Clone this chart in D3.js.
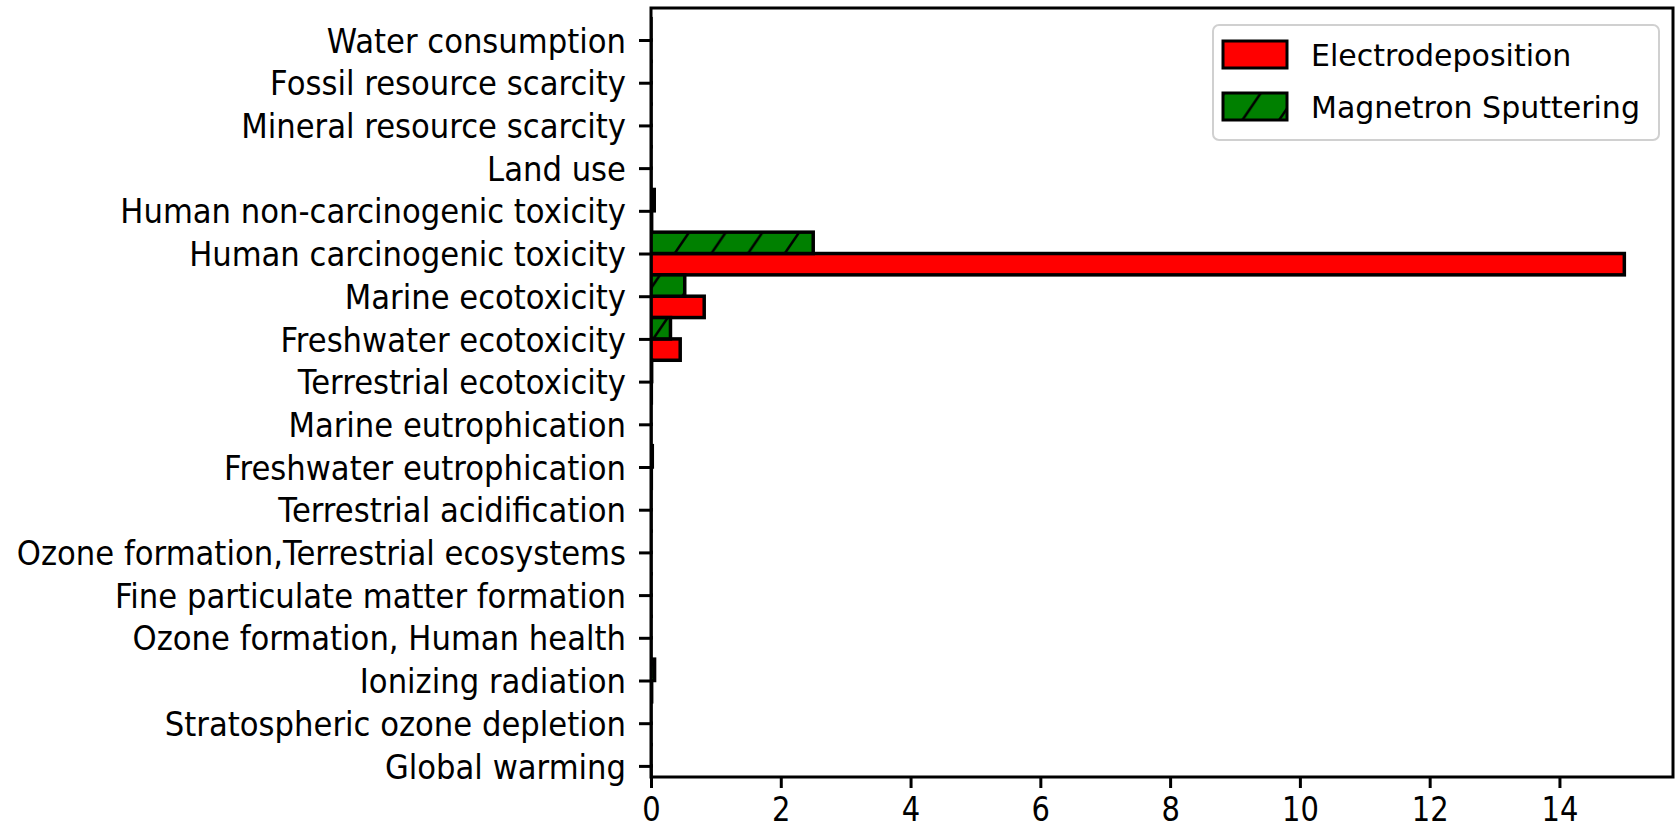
<!DOCTYPE html>
<html>
<head>
<meta charset="utf-8">
<script src="https://cdn.jsdelivr.net/npm/d3@7"></script>
<style>
  html, body { margin: 0; padding: 0; background: #ffffff; }
  svg { display: block; font-family: "DejaVu Sans", sans-serif; }
</style>
</head>
<body>
<svg id="chart" width="1675" height="830"></svg>
<script>
// Impact categories, listed from the bottom of the axis to the top
const categories = [
  "Global warming",
  "Stratospheric ozone depletion",
  "Ionizing radiation",
  "Ozone formation, Human health",
  "Fine particulate matter formation",
  "Ozone formation,Terrestrial ecosystems",
  "Terrestrial acidification",
  "Freshwater eutrophication",
  "Marine eutrophication",
  "Terrestrial ecotoxicity",
  "Freshwater ecotoxicity",
  "Marine ecotoxicity",
  "Human carcinogenic toxicity",
  "Human non-carcinogenic toxicity",
  "Land use",
  "Mineral resource scarcity",
  "Fossil resource scarcity",
  "Water consumption"
];

const electrodeposition = [
  0.002, 0.0, 0.01, 0.0, 0.001, 0.0, 0.001, 0.005, 0.0,
  0.005, 0.45, 0.82, 15.0, 0.01, 0.0, 0.0, 0.001, 0.0
];

const magnetronSputtering = [
  0.001, 0.0, 0.055, 0.0, 0.001, 0.0, 0.001, 0.02, 0.0,
  0.01, 0.30, 0.52, 2.50, 0.05, 0.0, 0.0, 0.001, 0.0
];

const xTicks = [0, 2, 4, 6, 8, 10, 12, 14];

const seriesNames = ["Electrodeposition", "Magnetron Sputtering"];

// ---- layout ----
const svg = d3.select("#chart");
const plot = { left: 651, right: 1673, top: 8, bottom: 777 };
const barHeight = 0.5;
const labelStretchY = 1.1;
const tickStretchY = 1.15;

const x = d3.scaleLinear().domain([0, 15.75]).range([plot.left, plot.right]);
const y = d3.scaleLinear().domain([-0.26, 17.75]).range([plot.bottom, plot.top]);

const defs = svg.append("defs");

defs.append("clipPath").attr("id", "plot-clip")
  .append("rect")
  .attr("x", plot.left).attr("y", plot.top)
  .attr("width", plot.right - plot.left)
  .attr("height", plot.bottom - plot.top);

// forward-slash hatch for the sputtering series
const hatchW = 36.7, hatchH = 54;
const hatch = defs.append("pattern")
  .attr("id", "hatch")
  .attr("patternUnits", "userSpaceOnUse")
  .attr("x", 675).attr("y", 253 - hatchH)
  .attr("width", hatchW).attr("height", hatchH);
hatch.append("rect").attr("width", hatchW).attr("height", hatchH).attr("fill", "#008000");
[[0, hatchH, hatchW, 0], [-hatchW, hatchH, 0, 0], [hatchW, hatchH, 2 * hatchW, 0]].forEach(l => {
  hatch.append("line")
    .attr("x1", l[0]).attr("y1", l[1]).attr("x2", l[2]).attr("y2", l[3])
    .attr("stroke", "#000").attr("stroke-width", 2.5);
});

// ---- bars ----
const rows = categories.map((c, i) => ({ i, c, e: electrodeposition[i], m: magnetronSputtering[i] }));
const bars = svg.append("g").attr("clip-path", "url(#plot-clip)");

// Electrodeposition sits just below each category tick
bars.selectAll("rect.e").data(rows).join("rect")
  .attr("class", "e")
  .attr("x", x(0))
  .attr("y", d => y(d.i))
  .attr("width", d => Math.max(x(d.e) - x(0), 0.01))
  .attr("height", d => y(d.i - barHeight) - y(d.i))
  .attr("fill", "#ff0000")
  .attr("stroke", "#000").attr("stroke-width", 3.5);

// Magnetron Sputtering sits just above each category tick
bars.selectAll("rect.m").data(rows).join("rect")
  .attr("class", "m")
  .attr("x", x(0))
  .attr("y", d => y(d.i + barHeight))
  .attr("width", d => Math.max(x(d.m) - x(0), 0.01))
  .attr("height", d => y(d.i) - y(d.i + barHeight))
  .attr("fill", "url(#hatch)")
  .attr("stroke", "#000").attr("stroke-width", 3.5);

// ---- axes ----
const yAxis = svg.append("g")
  .attr("transform", `translate(${plot.left},0)`)
  .call(d3.axisLeft(y)
    .tickValues(d3.range(categories.length))
    .tickFormat(i => categories[i])
    .tickSize(12).tickPadding(13));
yAxis.select(".domain").remove();
yAxis.selectAll(".tick line").attr("stroke", "#000").attr("stroke-width", 3);
yAxis.selectAll(".tick text")
  .attr("x", null).attr("dy", "0.36em")
  .attr("transform", `translate(-25,0) scale(1,${labelStretchY})`)
  .attr("fill", "#000")
  .style("font-size", "30.7px")
  .style("font-family", "'DejaVu Sans', sans-serif");

const xAxis = svg.append("g")
  .attr("transform", `translate(0,${plot.bottom})`)
  .call(d3.axisBottom(x).tickValues(xTicks).tickFormat(d3.format("d")).tickSize(11));
xAxis.select(".domain").remove();
xAxis.selectAll(".tick line").attr("stroke", "#000").attr("stroke-width", 3);
xAxis.selectAll(".tick text")
  .attr("y", null).attr("dy", null)
  .attr("transform", `translate(0,44) scale(1,${tickStretchY})`)
  .attr("fill", "#000")
  .style("font-size", "29px")
  .style("font-family", "'DejaVu Sans', sans-serif");

// frame around the plot area
svg.append("rect")
  .attr("x", plot.left).attr("y", plot.top)
  .attr("width", plot.right - plot.left)
  .attr("height", plot.bottom - plot.top)
  .attr("fill", "none").attr("stroke", "#000").attr("stroke-width", 3);

// ---- legend ----
const legend = svg.append("g");
legend.append("rect")
  .attr("x", 1213).attr("y", 25).attr("width", 446).attr("height", 115)
  .attr("rx", 6).attr("fill", "#fff").attr("fill-opacity", 0.8)
  .attr("stroke", "#d0d0d0").attr("stroke-width", 2);

const legendItems = [
  { name: seriesNames[0], fill: "#ff0000", top: 41 },
  { name: seriesNames[1], fill: "url(#hatch)", top: 93 }
];
legendItems.forEach(it => {
  legend.append("rect")
    .attr("x", 1223).attr("y", it.top).attr("width", 64).attr("height", 27)
    .attr("fill", it.fill).attr("stroke", "#000").attr("stroke-width", 3);
  legend.append("text")
    .attr("x", 1311).attr("y", it.top + 25)
    .attr("fill", "#000")
    .style("font-size", "30px")
    .text(it.name);
});
</script>
</body>
</html>
